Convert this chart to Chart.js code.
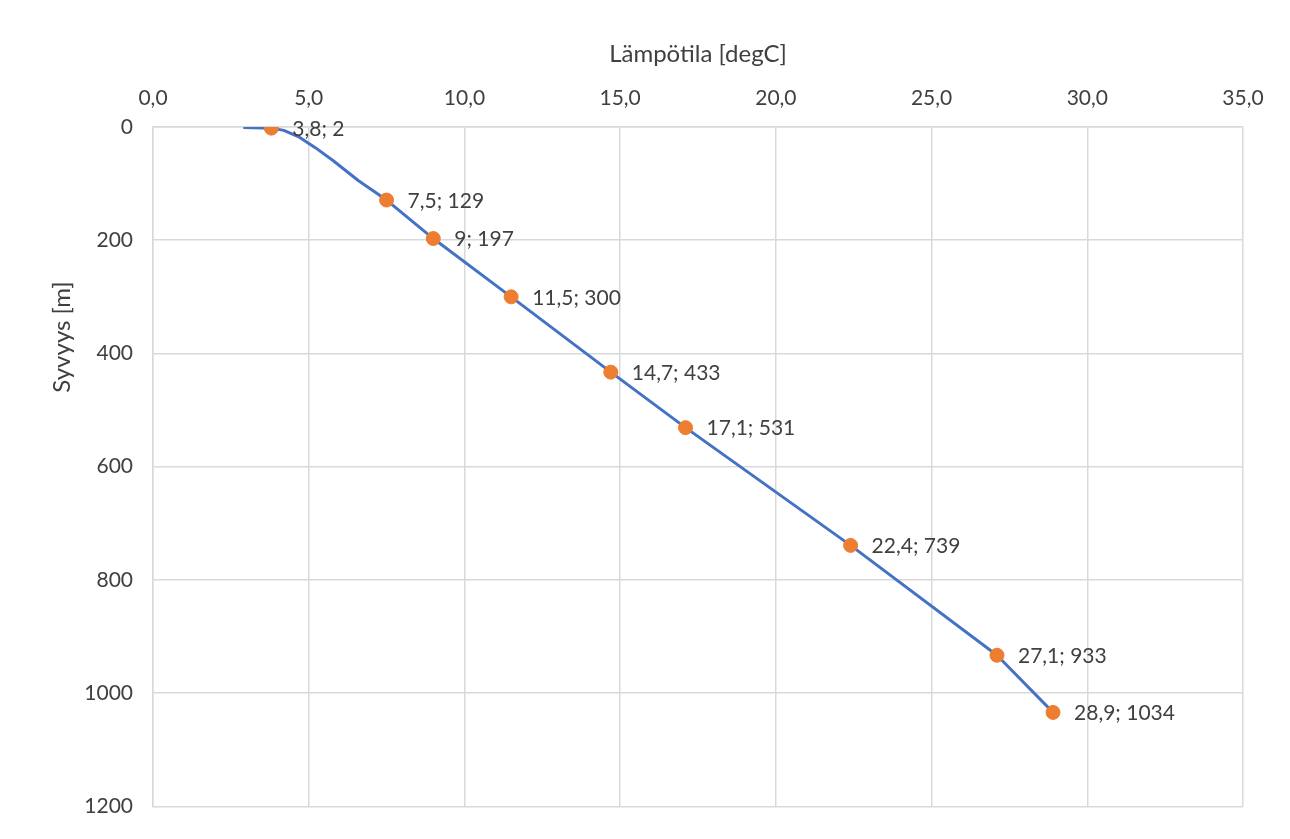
<!DOCTYPE html>
<html>
<head>
<meta charset="utf-8">
<script src="https://cdn.jsdelivr.net/npm/chart.js@4"></script>
<style>
  html, body { margin: 0; padding: 0; background: #fff; }
  #wrap { width: 1290px; height: 839px; }
</style>
</head>
<body>
<div id="wrap"><canvas id="chart"></canvas></div>
<script>
// temperature profile (line)
const profileTemp = [2.9, 3.8, 4.2, 4.7, 5.2, 5.8, 6.6, 7.5, 9, 11.5, 14.7, 17.1, 22.4, 27.1, 28.9];
const profileDepth = [1, 2, 6, 18, 36, 60, 95, 129, 197, 300, 433, 531, 739, 933, 1034];

// measured points (markers + labels)
const pointTemp = [3.8, 7.5, 9, 11.5, 14.7, 17.1, 22.4, 27.1, 28.9];
const pointDepth = [2, 129, 197, 300, 433, 531, 739, 933, 1034];

const BLUE = '#4472C4';
const ORANGE = '#ED7D31';
const TEXT = '#404040';
const GRID = '#d9d9d9';
const FONT = 'Lato, "Open Sans", sans-serif';

Chart.defaults.font.family = FONT;
Chart.defaults.color = TEXT;

const fmtNum = v => String(v).replace('.', ',');

const pointLabels = {
  id: 'pointLabels',
  afterDatasetsDraw(chart) {
    const ctx = chart.ctx;
    const meta = chart.getDatasetMeta(0);
    ctx.save();
    ctx.font = '21px ' + FONT;
    ctx.fillStyle = TEXT;
    ctx.textAlign = 'left';
    ctx.textBaseline = 'middle';
    meta.data.forEach((el, i) => {
      ctx.fillText(fmtNum(pointTemp[i]) + '; ' + pointDepth[i], el.x + 21, el.y + 1);
    });
    ctx.restore();
  }
};

// y title sits higher than the plot centre in the original
const yTitle = {
  id: 'yTitle',
  afterDraw(chart) {
    const ctx = chart.ctx;
    ctx.save();
    ctx.translate(62, 337);
    ctx.rotate(-Math.PI / 2);
    ctx.font = '24px ' + FONT;
    ctx.fillStyle = TEXT;
    ctx.textAlign = 'center';
    ctx.textBaseline = 'middle';
    ctx.fillText('Syvyys [m]', 0, 0);
    ctx.restore();
  }
};

new Chart(document.getElementById('chart'), {
  type: 'scatter',
  data: {
    datasets: [{
      label: 'Mittaus',
      data: pointTemp.map((t, i) => ({ x: t, y: pointDepth[i] })),
      backgroundColor: ORANGE,
      borderColor: ORANGE,
      pointRadius: 7,
      order: 0,
    }, {
      label: 'Profiili',
      type: 'line',
      data: profileTemp.map((t, i) => ({ x: t, y: profileDepth[i] })),
      borderColor: BLUE,
      borderWidth: 3,
      pointRadius: 0,
      showLine: true,
      fill: false,
      tension: 0,
      borderJoinStyle: 'round',
      order: 1,
    }]
  },
  options: {
    responsive: true,
    maintainAspectRatio: false,
    animation: false,
    layout: { padding: { top: 40, left: 48, right: 47, bottom: 21 } },
    plugins: {
      legend: { display: false },
      tooltip: { enabled: false }
    },
    scales: {
      x: {
        type: 'linear',
        position: 'top',
        min: 0,
        max: 35,
        ticks: {
          stepSize: 5,
          padding: 16,
          font: { size: 21 },
          color: TEXT,
          callback: v => v.toFixed(1).replace('.', ',')
        },
        grid: { color: GRID, lineWidth: 1.5, drawTicks: false },
        border: { color: GRID, width: 1.5 },
        title: {
          display: true,
          text: 'Lämpötila [degC]',
          font: { size: 24 },
          color: TEXT,
          padding: { top: 0, bottom: 6 }
        },
        afterFit: s => { s.height = 87; }
      },
      y: {
        type: 'linear',
        reverse: true,
        min: 0,
        max: 1200,
        ticks: {
          stepSize: 200,
          padding: 20,
          font: { size: 21 },
          color: TEXT,
          callback: v => String(v)
        },
        grid: { color: GRID, lineWidth: 1.5, drawTicks: false },
        border: { color: GRID, width: 1.5 },
        afterFit: s => { s.width = 105; }
      }
    }
  },
  plugins: [pointLabels, yTitle]
});
</script>
</body>
</html>
